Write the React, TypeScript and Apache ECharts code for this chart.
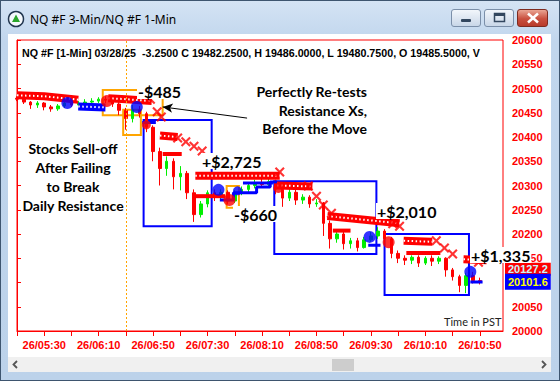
import React, { useEffect, useRef } from "react";
import * as echarts from "echarts";

// ---------- data ----------
const barTimes = ["05:10","05:15","05:20","05:25","05:30","05:35","05:40","05:45","05:50","05:55","06:00","06:05","06:10","06:15","06:20","06:25","06:30","06:35","06:40","06:45","06:50","06:55","07:00","07:05","07:10","07:15","07:20","07:25","07:30","07:35","07:40","07:45","07:50","07:55","08:00","08:05","08:10","08:15","08:20","08:25","08:30","08:35","08:40","08:45","08:50","08:55","09:00","09:05","09:10","09:15","09:20","09:25","09:30","09:35","09:40","09:45","09:50","09:55","10:00","10:05","10:10","10:15","10:20","10:25","10:30","10:35","10:40","10:45","10:50"];
const opens = [20480,20478,20472,20466,20470,20462,20458,20464,20470,20466,20470,20472,20474,20478,20476,20468,20455,20438,20456,20448,20420,20370,20335,20350,20318,20325,20285,20240,20262,20285,20278,20286,20268,20285,20292,20300,20306,20302,20308,20292,20274,20286,20270,20276,20262,20264,20222,20190,20200,20180,20186,20172,20188,20196,20206,20190,20160,20150,20146,20152,20140,20150,20144,20150,20126,20112,20094,20114,20104];
const closes = [20478,20472,20466,20470,20462,20458,20464,20470,20466,20470,20472,20474,20478,20476,20468,20455,20438,20456,20448,20420,20370,20335,20350,20318,20325,20285,20240,20262,20285,20278,20286,20268,20285,20292,20300,20306,20302,20308,20292,20274,20286,20270,20276,20262,20264,20222,20190,20200,20180,20186,20172,20188,20196,20206,20190,20160,20150,20146,20152,20140,20150,20144,20150,20126,20112,20094,20114,20104,20102];
const lows = [20474,20468,20458,20460,20455,20452,20454,20460,20462,20462,20466,20468,20470,20470,20462,20445,20415,20430,20440,20410,20350,20300,20320,20292,20290,20272,20225,20234,20255,20268,20272,20262,20264,20280,20286,20294,20296,20298,20282,20256,20268,20260,20262,20254,20256,20196,20170,20182,20168,20170,20164,20170,20184,20190,20180,20150,20140,20136,20138,20132,20136,20134,20138,20112,20104,20080,20078,20098,20096];
const highs = [20484,20480,20474,20474,20472,20466,20468,20474,20474,20474,20478,20480,20482,20484,20480,20472,20460,20466,20464,20452,20424,20378,20360,20356,20340,20330,20292,20268,20290,20292,20292,20290,20290,20298,20306,20312,20316,20314,20312,20298,20294,20292,20282,20280,20272,20266,20228,20208,20206,20192,20192,20194,20204,20214,20210,20194,20166,20156,20156,20156,20154,20156,20154,20152,20130,20116,20120,20122,20110];

const xLabelTimes = ["05:30","06:10","06:50","07:30","08:10","08:50","09:30","10:10","10:50"];
const priceMin = 20000;
const priceMax = 20600;
const priceStep = 50;

const redDots: [string, number, number][] = [["06:16",20474,12],["06:45",20425,9],["07:46",20270,12],["08:22",20295,10],["09:43",20183,12]];
const blueDots: [string, number, number][] = [["05:47",20470,12],["06:38",20462,12],["07:38",20291,12],["07:52",20289,9],["09:29",20194,12],["10:43",20122,12]];
const xMarks: [string, number][] = [["06:48",20478],["06:53",20452],["06:56",20441],["07:08",20398],["07:14",20390],["07:20",20381],["07:26",20371],["08:23",20328],["08:44",20299],["08:50",20278],["08:55",20260],["09:01",20243],["09:46",20221],["09:51",20216],["10:18",20186],["10:24",20171],["10:30",20159],["10:49",20142]];

const resistBands: [string, number][][] = [
  [["05:10",20486],["05:30",20484],["05:55",20477]],
  [["06:17",20480],["06:30",20478],["06:49",20474]],
  [["06:55",20403],["07:08",20400]],
  [["07:21",20320],["08:23",20320]],
  [["08:21",20300],["08:47",20298]],
  [["08:58",20237],["09:51",20222]],
  [["09:54",20186],["10:15",20184]],
  [["10:38",20148],["10:55",20146]],
];
const stopDashes: [string, number][][] = [
  [["06:57",20365],["07:11",20365]],
  [["07:21",20278],["07:43",20278]],
  [["09:02",20207],["09:15",20207]],
  [["09:56",20161],["10:21",20161]],
];
const blueBand: [string, number][] = [["05:55",20463],["06:15",20461]];
const blueTrails: [string, number][][] = [
  [["06:42",20430],["06:52",20430]],
  [["07:39",20270],["07:49",20270],["07:49",20285],["08:06",20285],["08:06",20297],["08:16",20297],["08:16",20307],["08:21",20307]],
  [["07:56",20305],["08:18",20305]],
  [["09:28",20177],["09:37",20177]],
  [["10:43",20101],["10:52",20101]],
];
// trade boxes: [start, end, top, bottom]
const tradeBoxes: [string, string, number, number][] = [
  ["06:43","07:33",20435,20216],
  ["08:19","09:34",20309,20159],
  ["09:40","10:42",20200,20074],
];
const orangeBoxes: [string, string, number, number][] = [
  ["06:13","06:57",20497,20445],
  ["06:28","06:41",20456,20404],
  ["07:44","07:53",20299,20254],
];
const sessionLine = "06:30";
const lastPrice = 20127.2;
const stopPrice = 20101.6;
const arrowFrom: [string, number] = ["06:57", 20462];
const arrowTo: [string, number] = ["07:59", 20439];

// ---------- helpers ----------
const START = 5 * 60 + 10;
const off = (t: string) => {
  const [h, m] = t.split(":").map(Number);
  return h * 60 + m - START;
};
const pad = (n: number) => (n < 10 ? "0" + n : "" + n);
const toTime = (v: number) => {
  const tot = Math.round(v) + START;
  return pad(Math.floor(tot / 60)) + ":" + pad(tot % 60);
};
const pts = (arr: [string, number][]) => arr.map(([t, p]) => [off(t), p]);

const RED = "#ff0000";
const GREEN = "#00ee00";
const BLUE = "#0000ff";
const ORANGE = "#ffa500";
const XPATH = "path://M0,1.5L1.5,0L5,3.5L8.5,0L10,1.5L6.5,5L10,8.5L8.5,10L5,6.5L1.5,10L0,8.5L3.5,5Z";
const AX_FONT = "'Liberation Sans', Arial, sans-serif";
const ANN_FONT = "Lato, 'Noto Sans', sans-serif";

export default function App() {
  const ref = useRef<HTMLDivElement>(null);
  useEffect(() => {
    if (!ref.current) return;
    const chart = echarts.init(ref.current, undefined, { renderer: "svg" });

    const candleData = barTimes.map((t, i) => [off(t), opens[i], closes[i], lows[i], highs[i]]);

    const series: any[] = [];
    series.push({
      type: "candlestick",
      name: "NQ",
      data: candleData,
      encode: { x: 0, y: [1, 2, 3, 4] },
      barWidth: 3,
      z: 2,
      silent: true,
      itemStyle: { color: GREEN, color0: RED, borderColor: GREEN, borderColor0: RED, borderWidth: 1 },
      markArea: {
        silent: true,
        data: [
          ...tradeBoxes.map(([a, b, top, bot]) => [
            { coord: [off(a), top], itemStyle: { color: "rgba(0,0,0,0)", borderColor: BLUE, borderWidth: 2 } },
            { coord: [off(b), bot] },
          ]),
          ...orangeBoxes.map(([a, b, top, bot]) => [
            { coord: [off(a), top], itemStyle: { color: "rgba(0,0,0,0)", borderColor: ORANGE, borderWidth: 2 } },
            { coord: [off(b), bot] },
          ]),
        ],
      },
      markLine: {
        silent: true,
        symbol: ["none", "none"],
        data: [
          { xAxis: off(sessionLine), lineStyle: { color: ORANGE, type: [2, 2], width: 1 }, label: { show: false } },
          [
            { coord: [off(arrowFrom[0]), arrowFrom[1]], symbol: "arrow", symbolSize: [7, 10], lineStyle: { color: "#000", width: 1, type: "solid" }, label: { show: false } },
            { coord: [off(arrowTo[0]), arrowTo[1]], symbol: "none" },
          ],
        ],
      },
    });

    // price tags at the right axis
    series.push({
      type: "line",
      data: [],
      silent: true,
      z: 6,
      markLine: {
        silent: true,
        symbol: ["none", "none"],
        lineStyle: { color: "rgba(0,0,0,0)", width: 1, type: "solid" },
        data: [
          {
            yAxis: lastPrice,
            label: { show: true, position: "end", distance: 2, formatter: "20127.2", backgroundColor: RED, color: "#c8f4ff", fontFamily: AX_FONT, fontWeight: "bold", fontSize: 11, padding: [1, 3, 1, 3] },
          },
          {
            yAxis: stopPrice,
            label: { show: true, position: "end", distance: 2, formatter: "20101.6", backgroundColor: BLUE, color: "#ffff00", fontFamily: AX_FONT, fontWeight: "bold", fontSize: 11, padding: [3, 3, 2, 3] },
          },
        ],
      },
    });

    resistBands.forEach((seg) => {
      series.push({ type: "line", data: pts(seg), symbol: "none", silent: true, z: 3, lineStyle: { color: RED, width: 8, cap: "butt" } });
      series.push({ type: "line", data: pts(seg), symbol: "none", silent: true, z: 3, lineStyle: { color: "#ffffff", width: 2, type: [1.5, 2.5], cap: "butt" } });
    });
    series.push({ type: "line", data: pts(blueBand), symbol: "none", silent: true, z: 3, lineStyle: { color: BLUE, width: 8, cap: "butt" } });
    series.push({ type: "line", data: pts(blueBand), symbol: "none", silent: true, z: 3, lineStyle: { color: "#ffffff", width: 2, type: [1.5, 2.5], cap: "butt" } });
    stopDashes.forEach((seg) => {
      series.push({ type: "line", data: pts(seg), symbol: "none", silent: true, z: 3, lineStyle: { color: RED, width: 4 } });
    });
    blueTrails.forEach((seg) => {
      series.push({ type: "line", data: pts(seg), symbol: "none", silent: true, z: 3, lineStyle: { color: BLUE, width: 3 } });
    });
    series.push({
      type: "scatter", data: pts(xMarks), symbol: XPATH, symbolSize: 10, silent: true, z: 4,
      itemStyle: { color: RED },
    });
    series.push({
      type: "scatter", data: redDots.map(([t, p, s]) => ({ value: [off(t), p], symbolSize: s })), symbol: "circle", silent: true, z: 5,
      itemStyle: { color: RED },
    });
    series.push({
      type: "scatter", data: blueDots.map(([t, p, s]) => ({ value: [off(t), p], symbolSize: s })), symbol: "circle", silent: true, z: 5,
      itemStyle: { color: BLUE },
    });

    const txt = (text: string, x: number, y: number, size: number, opts: any = {}) => ({
      type: "text",
      x, y, z: 100, silent: true,
      style: {
        text,
        fontSize: size,
        fontWeight: opts.weight ?? "bold",
        fontFamily: opts.family ?? ANN_FONT,
        fill: opts.fill ?? "#000",
        textAlign: opts.align ?? "left",
        align: opts.align ?? "left",
        textVerticalAlign: "middle",
        verticalAlign: "middle",
        backgroundColor: opts.bg,
        padding: opts.bg ? [0, 1, 0, 1] : undefined,
      },
    });

    const graphic: any[] = [
      // window icon
      { type: "circle", shape: { cx: 16, cy: 19, r: 7.5 }, z: 100, silent: true, style: { fill: "#f4f8fc", stroke: "#22364f", lineWidth: 1.5 } },
      { type: "polygon", shape: { points: [[16, 14.5], [20, 22], [12, 22]] }, z: 101, silent: true, style: { fill: "#2aa52a" } },
      txt("NQ #F 3-Min/NQ #F 1-Min", 30, 19, 12, { weight: "normal", family: "'Noto Sans', sans-serif" }),
      // window buttons glyphs
      { type: "rect", shape: { x: 461, y: 19, width: 10, height: 3, r: 1 }, z: 100, silent: true, style: { fill: "#33475f" } },
      { type: "rect", shape: { x: 494.5, y: 13.5, width: 10, height: 8 }, z: 100, silent: true, style: { fill: "none", stroke: "#33475f", lineWidth: 1.5 } },
      { type: "rect", shape: { x: 494.5, y: 13.5, width: 10, height: 2.5 }, z: 100, silent: true, style: { fill: "#33475f" } },
      { type: "line", shape: { x1: 528, y1: 13.5, x2: 538, y2: 22.5 }, z: 100, silent: true, style: { stroke: "#fff", lineWidth: 2.5 } },
      { type: "line", shape: { x1: 538, y1: 13.5, x2: 528, y2: 22.5 }, z: 100, silent: true, style: { stroke: "#fff", lineWidth: 2.5 } },
      // scroll arrows
      { type: "polyline", shape: { points: [[17, 361], [13.5, 364.5], [17, 368]] }, z: 100, silent: true, style: { stroke: "#555", lineWidth: 1.8, fill: "none" } },
      { type: "polyline", shape: { points: [[542, 361], [545.5, 364.5], [542, 368]] }, z: 100, silent: true, style: { stroke: "#555", lineWidth: 1.8, fill: "none" } },
      // header
      txt("NQ #F [1-Min] 03/28/25  -3.2500 C 19482.2500, H 19486.0000, L 19480.7500, O 19485.5000, V", 22, 53, 10.7, { family: AX_FONT }),
      // annotations
      txt("-$485", 137, 91, 16, { bg: "#fff" }),
      txt("+$2,725", 201, 161, 16, { bg: "#fff" }),
      txt("-$660", 233, 214, 16, { bg: "#fff" }),
      txt("+$2,010", 376, 211, 16, { bg: "#fff" }),
      txt("+$1,335", 470, 255, 16, { bg: "#fff" }),
      txt("Perfectly Re-tests", 367, 91, 14, { align: "right" }),
      txt("Resistance Xs,", 367, 110, 14, { align: "right" }),
      txt("Before the Move", 367, 128, 14, { align: "right" }),
      txt("Stocks Sell-off", 73, 148, 14, { align: "center" }),
      txt("After Failing", 73, 167, 14, { align: "center" }),
      txt("to Break", 73, 186, 14, { align: "center" }),
      txt("Daily Resistance", 73, 205, 14, { align: "center" }),
      txt("Time in PST", 444, 321, 11, { weight: "normal", fill: "#222" }),
    ];

    chart.setOption({
      animation: false,
      backgroundColor: "transparent",
      grid: { left: 17, right: 57, top: 40, bottom: 50, show: true, borderColor: RED, borderWidth: 1, backgroundColor: "transparent" },
      xAxis: {
        type: "value",
        min: 0,
        max: 357,
        interval: 20,
        axisLine: { show: true, lineStyle: { color: RED, width: 1 } },
        axisTick: { show: true, length: 5, lineStyle: { color: RED } },
        splitLine: { show: false },
        axisLabel: {
          color: RED,
          fontFamily: AX_FONT,
          fontWeight: "bold",
          fontSize: 11,
          margin: 8,
          showMaxLabel: false,
          formatter: (v: number) => {
            const t = toTime(v);
            return xLabelTimes.includes(t) ? "26/" + t : "";
          },
        },
      },
      yAxis: {
        type: "value",
        position: "right",
        min: priceMin,
        max: priceMax,
        interval: priceStep,
        axisLine: { show: true, lineStyle: { color: RED, width: 1 } },
        axisTick: { show: true, length: 4, lineStyle: { color: RED } },
        splitLine: { show: false },
        axisLabel: { color: RED, fontFamily: AX_FONT, fontWeight: "bold", fontSize: 11, margin: 9, formatter: (v: number) => String(v) },
      },
      series,
      graphic,
    });
    return () => chart.dispose();
  }, []);

  const abs = (l: number, t: number, w: number, h: number, extra: any = {}) => ({
    position: "absolute" as const, left: l, top: t, width: w, height: h, boxSizing: "border-box" as const, ...extra,
  });

  return (
    <div style={{ position: "fixed", left: 0, top: 0, width: 560, height: 381, overflow: "hidden" }}>
      <div style={abs(0, 0, 560, 381, { background: "linear-gradient(#d4e3f4, #c1d6ed 40px, #bcd2ea)", border: "1px solid #3e556f" })} />
      <div style={abs(8, 34, 543, 323, { background: "#ffffff" })} />
      <div style={abs(8, 357, 543, 15, { background: "#f0f0f0" })} />
      <div style={abs(332, 359, 22, 12, { background: "#cdcdcd" })} />
      <div style={abs(451, 9, 30, 18, { background: "linear-gradient(#f2f6fb, #c9d7e8)", border: "1px solid #7b8fa9", borderRadius: 3 })} />
      <div style={abs(484, 9, 30, 18, { background: "linear-gradient(#f2f6fb, #c9d7e8)", border: "1px solid #7b8fa9", borderRadius: 3 })} />
      <div style={abs(517, 9, 31, 18, { background: "linear-gradient(#eaa593, #c9503f 55%, #b93b2b)", border: "1px solid #7e2b20", borderRadius: 3 })} />
      <div ref={ref} style={abs(0, 0, 560, 381)} />
    </div>
  );
}
